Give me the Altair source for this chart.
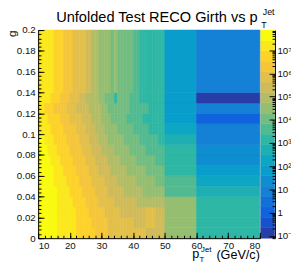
import altair as alt
import numpy as np
import pandas as pd

# ---------------- data ----------------
PT_EDGES = list(range(10, 51)) + [60, 80]          # 42 pT bins (GeV/c)
G_EDGES = [0.00, 0.01, 0.02, 0.03, 0.04, 0.05, 0.06, 0.07, 0.08, 0.09,
           0.10, 0.11, 0.12, 0.13, 0.14, 0.20]       # 15 girth bins
# colour level per bin (0-19 written as 0-9, a-j), one string per g bin (bottom first)
LEVEL_ROWS = [
    "jjjjjjiiiiiihhhhhhggggffffffffffffeeeeee" + "c9",  # 0.00-0.01
    "jjjjjjiiiiiihhhhhgggggffffffffeeeefffeee" + "c9",  # 0.01-0.02
    "jjjjjjiiiiiihhhhgggggfffffeeeeeeeefffeee" + "c9",  # 0.02-0.03
    "jjjjjjiiiiihhhhggggfffffeeeeeeeddddddddd" + "c9",  # 0.03-0.04
    "jjjjjjiiiihhhhggggffffeeeeeddddddccccccc" + "a8",  # 0.04-0.05
    "jjjjjiiiihhhhggggffffeeeeddddddccccccbbb" + "a7",  # 0.05-0.06
    "jjjjjiiihhhhggggfffeeeedddddccccccbbbbbb" + "96",  # 0.06-0.07
    "jjjjiiihhhhggggfffeeeeddddcccccbbbbbbaaa" + "95",  # 0.07-0.08
    "jjjiiihhhhggggfffeeeddddcccccbbbbbaaaaaa" + "95",  # 0.08-0.09
    "jjiiihhhhggggfffeeedddcccccbbbbbaaaaaa99" + "84",  # 0.09-0.10
    "iiiihhhhggggfffeeedddccccbbbbbaaaaa99999" + "74",  # 0.10-0.11
    "iiihhhhgggffffeeedddcccbbbbbaaaaa9999999" + "62",  # 0.11-0.12
    "iihhhggggfffeeeeddddccbbbbbbbaaaaaa99999" + "64",  # 0.12-0.13
    "iiiihhhgggfffeeddddccbbb9bbbbaaa99999999" + "60",  # 0.13-0.14
    "iiiiihhhgggffffeeddccccbcbbbbbaa99999999" + "64",  # 0.14-0.20
]
Z_LOG_MIN, Z_LOG_MAX = -1.1, 7.87
N_LEVELS = 20
CB_TICKS = [0.1, 1, 10, 1e2, 1e3, 1e4, 1e5, 1e6, 1e7]
CB_LABELS = ["10⁻¹", "1", "10", "10²", "10³", "10⁴", "10⁵", "10⁶", "10⁷"]
X_MAJOR = list(range(10, 81, 10))
X_MINOR = list(range(10, 81, 2))
Y_MAJOR = [round(0.02 * i, 2) for i in range(11)]
Y_MINOR = [round(0.004 * i, 3) for i in range(51)]
CB_MINOR = [k * 10.0 ** e for e in range(-2, 8) for k in range(2, 10)
            if Z_LOG_MIN < np.log10(k * 10.0 ** e) < Z_LOG_MAX]

# ---------------- palette (ROOT kBird, 20 contour levels) ----------------
stops = [0.0, 0.125, 0.25, 0.375, 0.5, 0.625, 0.75, 0.875, 1.0]
R = [0.2082, 0.0592, 0.0780, 0.0232, 0.1802, 0.5301, 0.8186, 0.9956, 0.9764]
G = [0.1664, 0.3599, 0.5041, 0.6419, 0.7178, 0.7492, 0.7328, 0.7862, 0.9832]
B = [0.5293, 0.8684, 0.8385, 0.7914, 0.6425, 0.4662, 0.3499, 0.1968, 0.0539]
PALETTE = []
for i in range(N_LEVELS):
    f = int((i + 0.99) * 255 / N_LEVELS) / 254.0
    rgb = [int(round(255 * np.interp(f, stops, c))) for c in (R, G, B)]
    PALETTE.append("#%02x%02x%02x" % tuple(rgb))

# ---------------- tables ----------------
recs = []
for r, row in enumerate(LEVEL_ROWS):
    for c, ch in enumerate(row):
        recs.append(dict(x0=PT_EDGES[c], x1=PT_EDGES[c + 1],
                         y0=G_EDGES[r], y1=G_EDGES[r + 1], level=int(ch, 20)))
df = pd.DataFrame(recs)

step = (Z_LOG_MAX - Z_LOG_MIN) / N_LEVELS
cb = pd.DataFrame(dict(level=list(range(N_LEVELS)),
                       z0=[10 ** (Z_LOG_MIN + i * step) for i in range(N_LEVELS)],
                       z1=[10 ** (Z_LOG_MIN + (i + 1) * step) for i in range(N_LEVELS)]))

# ---------------- chart ----------------
W, H = 228, 214
FONT = "Liberation Sans"
xs = alt.Scale(domain=[10, 80], nice=False, zero=False)
ys = alt.Scale(domain=[0, 0.2], nice=False, zero=False)
zs = alt.Scale(type="log", domain=[10 ** Z_LOG_MIN, 10 ** Z_LOG_MAX], nice=False)
cs = alt.Scale(domain=list(range(N_LEVELS)), range=PALETTE)

heat = alt.Chart(df).mark_rect(strokeWidth=0.6).encode(
    x=alt.X("x0:Q", scale=xs, axis=alt.Axis(orient="bottom", values=X_MAJOR, tickSize=6, offset=-6,
                                            domain=False, labels=False, grid=False, title=None,
                                            tickColor="black", zindex=2)),
    x2="x1:Q",
    y=alt.Y("y0:Q", scale=ys, axis=alt.Axis(orient="left", values=Y_MAJOR, tickSize=6, offset=-6,
                                            domain=False, labels=False, grid=False, title=None,
                                            tickColor="black", zindex=2)),
    y2="y1:Q",
    color=alt.Color("level:O", scale=cs, legend=None),
    stroke=alt.Stroke("level:O", scale=cs, legend=None),
)

minor = alt.Chart(df).mark_rect(opacity=0).encode(
    x=alt.X("x0:Q", scale=xs, axis=alt.Axis(orient="bottom", values=X_MINOR, tickSize=3, offset=-3,
                                            domain=False, labels=False, grid=False, title=None,
                                            tickColor="black", zindex=2)),
    y=alt.Y("y0:Q", scale=ys, axis=alt.Axis(orient="left", values=Y_MINOR, tickSize=3, offset=-3,
                                            domain=False, labels=False, grid=False, title=None,
                                            tickColor="black", zindex=2)),
)

frame = alt.Chart(df).mark_rect(opacity=0).encode(
    x=alt.X("x0:Q", scale=xs, axis=alt.Axis(orient="bottom", values=X_MAJOR, ticks=False, tickSize=0,
                                            domain=True, domainColor="black", domainWidth=1,
                                            labelFont=FONT, labelFontSize=10, labelColor="#111",
                                            labelPadding=3, grid=False, title=None, zindex=2)),
    y=alt.Y("y0:Q", scale=ys, axis=alt.Axis(orient="left", values=Y_MAJOR, ticks=False, tickSize=0,
                                            domain=True, domainColor="black", domainWidth=1,
                                            format="~g", labelFont=FONT, labelFontSize=10,
                                            labelColor="#111", labelPadding=3, grid=False,
                                            title="g", titleFont=FONT, titleFontSize=12,
                                            titleFontWeight="normal", titleColor="#111",
                                            titleAngle=270, titleAlign="right",
                                            titleBaseline="alphabetic", titleX=-23, titleY=0,
                                            zindex=2)),
)

label_expr = "[" + ",".join("'%s'" % s for s in CB_LABELS) + "][round(log(datum.value)/LN10)+1]"

cbar = alt.Chart(cb).mark_rect(strokeWidth=0.6).encode(
    x=alt.value(W + 1), x2=alt.value(W + 15),
    y=alt.Y("z0:Q", scale=zs, axis=alt.Axis(orient="right", values=CB_TICKS, tickSize=6, offset=9.5,
                                            domain=False, tickColor="black", labelExpr=label_expr,
                                            labelFont=FONT, labelFontSize=10, labelColor="#111",
                                            labelPadding=2, grid=False, title=None, zindex=2)),
    y2="z1:Q",
    color=alt.Color("level:O", scale=cs, legend=None),
    stroke=alt.Stroke("level:O", scale=cs, legend=None),
)

cbar_minor = alt.Chart(cb).mark_rect(opacity=0).encode(
    x=alt.value(W + 1), x2=alt.value(W + 15),
    y=alt.Y("z0:Q", scale=zs, axis=alt.Axis(orient="right", values=CB_MINOR, tickSize=3, offset=12.5,
                                            domain=False, labels=False, tickColor="black",
                                            grid=False, title=None, zindex=2)),
)

cbar_line = alt.Chart(cb).mark_rect(opacity=0).encode(
    x=alt.value(W + 1), x2=alt.value(W + 15),
    y=alt.Y("z0:Q", scale=zs, axis=alt.Axis(orient="right", values=CB_TICKS, ticks=False, tickSize=0,
                                            offset=15.5, domain=True, domainColor="black",
                                            labels=False, grid=False, title=None, zindex=2)),
)


def txt(s, x, y, size, align="left"):
    return alt.Chart(alt.InlineData(values=[{}])).mark_text(
        text=s, align=align, baseline="alphabetic", font=FONT, fontSize=size, color="black"
    ).encode(x=alt.value(x), y=alt.value(y))


texts = [
    txt("Unfolded Test RECO Girth vs p", 18.5, -8.5, 15),
    txt("T", 229.5, -2, 9),
    txt("Jet", 231, -15, 9),
    txt("(GeV/c)", W, 235, 13, align="right"),
    txt("p", 158.5, 234, 13),
    txt("Jet", 167.5, 228, 8),
    txt("T", 166, 239, 8),
]

chart = alt.layer(heat, minor, frame, cbar, cbar_minor, cbar_line, *texts).resolve_scale(
    x="independent", y="independent"
).properties(
    width=W, height=H,
    autosize=alt.AutoSizeParams(type="none"),
    padding={"left": 31, "top": 19, "right": 32, "bottom": 28},
    background="white",
).configure_view(stroke="#cccccc", strokeWidth=1)

chart.save("out.html", embed_options={"renderer": "svg", "actions": False})
